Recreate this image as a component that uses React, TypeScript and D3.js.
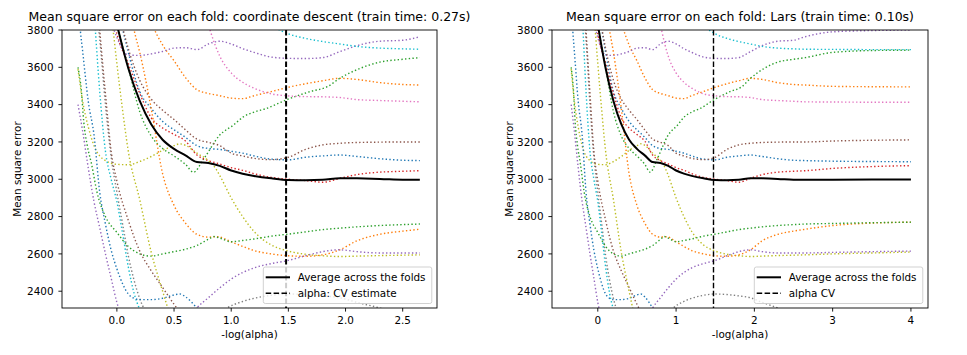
import React from "react";
import * as d3 from "d3";

type Pt = [number, number];

const TAB10 = ["#1f77b4", "#ff7f0e", "#2ca02c", "#d62728", "#9467bd", "#8c564b", "#e377c2", "#7f7f7f", "#bcbd22", "#17becf"];

// Per-fold MSE paths, x = -log10(alpha)
const foldBlueA: Pt[] = [[-0.1, 4300], [0, 3950], [0.1, 3680], [0.2, 3470], [0.3, 3380], [0.4, 3310], [0.5, 3265], [0.6, 3225], [0.7, 3180], [0.8, 3165], [0.9, 3160], [1.0, 3150], [1.1, 3140], [1.2, 3125], [1.35, 3108], [1.5, 3104], [1.65, 3118], [1.8, 3125], [1.95, 3130], [2.1, 3122], [2.3, 3110], [2.5, 3102], [2.65, 3100]];
const foldOrangeA: Pt[] = [[0.2, 4100], [0.3, 3850], [0.4, 3720], [0.5, 3635], [0.6, 3545], [0.7, 3480], [0.8, 3460], [0.9, 3448], [1.0, 3435], [1.1, 3432], [1.2, 3448], [1.35, 3470], [1.5, 3493], [1.65, 3512], [1.8, 3528], [1.95, 3541], [2.1, 3535], [2.3, 3518], [2.5, 3508], [2.65, 3505]];
const foldGreenA: Pt[] = [[-0.1, 4300], [0, 3850], [0.1, 3600], [0.2, 3362], [0.3, 3232], [0.4, 3165], [0.5, 3125], [0.6, 3080], [0.67, 3038], [0.76, 3110], [0.9, 3237], [1.02, 3291], [1.11, 3336], [1.2, 3360], [1.31, 3380], [1.48, 3425], [1.69, 3470], [1.84, 3496], [1.95, 3541], [2.13, 3595], [2.3, 3628], [2.5, 3643], [2.65, 3652]];
const foldRedA: Pt[] = [[-0.1, 4100], [0, 3780], [0.1, 3620], [0.2, 3460], [0.3, 3330], [0.4, 3275], [0.5, 3240], [0.6, 3205], [0.7, 3130], [0.8, 3100], [0.9, 3082], [1.0, 3062], [1.1, 3048], [1.2, 3030], [1.35, 3010], [1.5, 3000], [1.65, 2993], [1.8, 2984], [1.95, 3005], [2.1, 3025], [2.3, 3038], [2.5, 3043], [2.65, 3046]];
const foldPurpleA: Pt[] = [[-0.2, 4200], [-0.1, 3950], [0, 3760], [0.1, 3665], [0.2, 3664], [0.3, 3672], [0.4, 3685], [0.5, 3703], [0.6, 3705], [0.7, 3695], [0.8, 3725], [0.9, 3740], [1.0, 3725], [1.1, 3700], [1.2, 3680], [1.35, 3655], [1.5, 3648], [1.65, 3647], [1.8, 3652], [1.95, 3684], [2.1, 3716], [2.3, 3740], [2.5, 3745], [2.65, 3764]];
const foldBrownA: Pt[] = [[-0.1, 4300], [0, 3950], [0.1, 3700], [0.2, 3530], [0.3, 3430], [0.4, 3370], [0.5, 3320], [0.6, 3265], [0.7, 3215], [0.8, 3198], [0.9, 3180], [1.0, 3140], [1.1, 3125], [1.2, 3112], [1.35, 3105], [1.5, 3118], [1.65, 3160], [1.8, 3184], [1.95, 3193], [2.1, 3197], [2.3, 3199], [2.5, 3200], [2.65, 3200]];
const foldPinkA: Pt[] = [[0.7, 4150], [0.75, 3950], [0.82, 3790], [0.9, 3660], [1.0, 3570], [1.1, 3520], [1.2, 3488], [1.35, 3458], [1.5, 3447], [1.65, 3443], [1.8, 3442], [1.95, 3438], [2.1, 3427], [2.3, 3422], [2.5, 3418], [2.65, 3415]];
const foldGrayA: Pt[] = [[-0.25, 4200], [-0.2, 4000], [-0.15, 3750], [-0.1, 3400], [-0.05, 3120], [0, 2930], [0.05, 2760], [0.1, 2590], [0.15, 2460], [0.2, 2360], [0.25, 2290], [0.4, 2150], [0.6, 2120], [0.8, 2220], [0.95, 2305], [1.1, 2345], [1.2, 2362], [1.35, 2378], [1.5, 2385], [1.65, 2382], [1.8, 2375], [1.95, 2365], [2.1, 2340], [2.3, 2310], [2.5, 2270], [2.65, 2240]];
const foldOliveA: Pt[] = [[-0.34, 3590], [-0.3, 3420], [-0.25, 3280], [-0.2, 3180], [-0.1, 3100], [0, 3080], [0.1, 3078], [0.2, 3095], [0.3, 3122], [0.4, 3155], [0.5, 3180], [0.55, 3190], [0.6, 3182], [0.7, 3140], [0.8, 3100], [0.85, 3070], [0.9, 3020], [1.0, 2900], [1.1, 2800], [1.2, 2720], [1.35, 2648], [1.5, 2615], [1.65, 2598], [1.8, 2590], [1.95, 2586], [2.1, 2588], [2.3, 2591], [2.5, 2593], [2.65, 2595]];
const foldCyanA: Pt[] = [[-0.25, 4300], [-0.2, 3900], [-0.15, 3470], [-0.1, 3150], [-0.05, 3000], [0, 2880], [0.05, 2710], [0.1, 2530], [0.15, 2390], [0.2, 2300], [0.3, 2150], [0.6, 2000], [2.65, 1900]];
const foldBlueB: Pt[] = [[-0.34, 3950], [-0.32, 3800], [-0.3, 3690], [-0.25, 3416], [-0.2, 3237], [-0.15, 2930], [-0.1, 2760], [-0.05, 2620], [0, 2520], [0.05, 2440], [0.1, 2385], [0.15, 2362], [0.2, 2355], [0.3, 2355], [0.4, 2362], [0.5, 2380], [0.55, 2385], [0.6, 2370], [0.7, 2310], [0.8, 2240], [1.0, 2150], [2.65, 2000]];
const foldOrangeB: Pt[] = [[0, 4400], [0.1, 3950], [0.15, 3800], [0.2, 3680], [0.3, 3380], [0.4, 3030], [0.5, 2860], [0.6, 2765], [0.7, 2705], [0.8, 2690], [0.88, 2692], [1.0, 2665], [1.1, 2640], [1.2, 2618], [1.35, 2600], [1.5, 2590], [1.65, 2587], [1.8, 2595], [1.95, 2622], [2.1, 2670], [2.3, 2705], [2.5, 2722], [2.65, 2732]];
const foldGreenB: Pt[] = [[-0.34, 3600], [-0.31, 3470], [-0.29, 3310], [-0.26, 3184], [-0.22, 3077], [-0.175, 2934], [-0.1, 2800], [0, 2715], [0.1, 2640], [0.2, 2600], [0.3, 2588], [0.4, 2600], [0.5, 2612], [0.6, 2625], [0.7, 2645], [0.8, 2678], [0.85, 2693], [0.9, 2685], [1.0, 2665], [1.1, 2672], [1.2, 2680], [1.35, 2695], [1.5, 2706], [1.65, 2718], [1.8, 2730], [1.95, 2738], [2.1, 2745], [2.3, 2752], [2.5, 2757], [2.65, 2760]];
const foldPurpleB: Pt[] = [[-0.34, 3400], [-0.3, 3260], [-0.25, 3060], [-0.2, 2880], [-0.15, 2740], [-0.1, 2600], [-0.05, 2470], [0, 2340], [0.05, 2250], [0.3, 2050], [0.5, 2100], [0.65, 2270], [0.7, 2310], [0.8, 2365], [0.9, 2418], [1.0, 2465], [1.1, 2500], [1.2, 2525], [1.35, 2548], [1.5, 2565], [1.65, 2590], [1.8, 2612], [1.95, 2622], [2.1, 2612], [2.3, 2605], [2.5, 2605], [2.65, 2605]];
const foldBrownB: Pt[] = [[-0.2, 4200], [-0.15, 3800], [-0.1, 3460], [-0.05, 3150], [0, 2990], [0.1, 2780], [0.2, 2615], [0.3, 2510], [0.4, 2420], [0.5, 2330], [0.6, 2250], [0.8, 2150], [2.65, 2000]];
const foldOliveB: Pt[] = [[-0.1, 4200], [0, 3620], [0.05, 3370], [0.1, 3150], [0.2, 2890], [0.3, 2610], [0.4, 2400], [0.45, 2300], [0.5, 2200], [0.7, 2050], [2.65, 1900]];
const foldCyanB: Pt[] = [[1.2, 3950], [1.35, 3830], [1.5, 3780], [1.65, 3755], [1.8, 3738], [1.95, 3725], [2.1, 3712], [2.3, 3703], [2.5, 3699], [2.65, 3697]];

const folds: Pt[][] = [foldBlueA, foldOrangeA, foldGreenA, foldRedA, foldPurpleA, foldBrownA, foldPinkA, foldGrayA, foldOliveA, foldCyanA, foldBlueB, foldOrangeB, foldGreenB, foldPurpleB, foldBrownB, foldOliveB, foldCyanB];
const foldColorIdx = [0, 1, 2, 3, 4, 5, 6, 7, 8, 9, 0, 1, 2, 4, 5, 8, 9];

const averageMse: Pt[] = [[-0.34, 4800], [-0.2, 4400], [-0.1, 4100], [0, 3830], [0.1, 3595], [0.2, 3420], [0.3, 3295], [0.4, 3212], [0.5, 3163], [0.6, 3128], [0.7, 3092], [0.8, 3087], [0.9, 3072], [1.0, 3047], [1.1, 3030], [1.2, 3018], [1.35, 3005], [1.5, 2996], [1.65, 2995], [1.8, 2997], [1.95, 3006], [2.1, 3005], [2.3, 3002], [2.5, 2998], [2.65, 2997]];

// Lars path extends further (x = 3.0, 3.5, 4.0)
const larsTailX = [3.0, 3.5, 4.0];
const larsTails: (number[] | null)[] = [
  [3097, 3095, 3094], [3498, 3496, 3495], [3680, 3690, 3692], [3058, 3068, 3073], [3790, 3797, 3800],
  [3205, 3209, 3211], [3414, 3413, 3413], [2200, 2150, 2100], [2600, 2605, 2610], null,
  null, [2752, 2765, 2770], [2763, 2767, 2770], [2608, 2612, 2615], null, null, [3696, 3695, 3695],
];
const larsAverageTail = [2998, 2999, 2999];

const yTicks = [2400, 2600, 2800, 3000, 3200, 3400, 3600, 3800];
const cdXTicks = [0, 0.5, 1.0, 1.5, 2.0, 2.5];
const larsXTicks = [0, 1, 2, 3, 4];
const alphaCvCD = 1.48;
const alphaCvLars = 1.478;

const FONT = "'DejaVu Sans', sans-serif";
const FS = 10.4;
const TOP = 30;
const BOTTOM = 308;

function withTail(p: Pt[], tail: number[] | null): Pt[] {
  if (!tail) return p;
  return [...p, ...larsTailX.map((x, i) => [x, tail[i]] as Pt)];
}

interface PanelProps {
  id: string;
  left: number;
  right: number;
  xDomain: [number, number];
  xTicks: number[];
  fmt: (v: number) => string;
  title: string;
  cvLabel: string;
  alphaCv: number;
  series: Pt[][];
  avg: Pt[];
  dashWidth: number;
  yLabelX: number;
}

function Panel(props: PanelProps) {
  const { id, left, right, xDomain, xTicks, fmt, title, cvLabel, alphaCv, series, avg, dashWidth, yLabelX } = props;
  const x = d3.scaleLinear().domain(xDomain).range([left, right]);
  const y = d3.scaleLinear().domain([2310, 3800]).range([BOTTOM, TOP]);
  const line = d3.line<Pt>().x((d) => x(d[0])).y((d) => y(d[1])).curve(d3.curveMonotoneX);
  const cx = (left + right) / 2;
  const legR = right - 5.2;
  const legL = legR - 168.5;
  const legT = 267;
  const legB = 303.5;
  return (
    <g>
      <defs>
        <clipPath id={id}>
          <rect x={left} y={TOP} width={right - left} height={BOTTOM - TOP} />
        </clipPath>
      </defs>
      <g clipPath={`url(#${id})`}>
        {series.map((s, i) => (
          <path key={i} d={line(s) || ""} fill="none" stroke={TAB10[foldColorIdx[i]]} strokeWidth={1.4} strokeDasharray="1.4 2.3" />
        ))}
        <path d={line(avg) || ""} fill="none" stroke="#000" strokeWidth={2} />
        <line x1={x(alphaCv)} x2={x(alphaCv)} y1={TOP} y2={BOTTOM} stroke="#000" strokeWidth={dashWidth} strokeDasharray="5.5 2.4" />
      </g>
      <rect x={left} y={TOP} width={right - left} height={BOTTOM - TOP} fill="none" stroke="#000" strokeWidth={0.9} />
      {yTicks.map((t) => (
        <g key={t}>
          <line x1={left - 3.6} x2={left} y1={y(t)} y2={y(t)} stroke="#000" strokeWidth={0.9} />
          <text x={left - 8.5} y={y(t)} dy="0.36em" textAnchor="end" fontSize={FS} fontFamily={FONT} fill="#000">{t}</text>
        </g>
      ))}
      {xTicks.map((t) => (
        <g key={t}>
          <line x1={x(t)} x2={x(t)} y1={BOTTOM} y2={BOTTOM + 3.6} stroke="#000" strokeWidth={0.9} />
          <text x={x(t)} y={BOTTOM + 15.5} textAnchor="middle" fontSize={FS} fontFamily={FONT} fill="#000">{fmt(t)}</text>
        </g>
      ))}
      <text x={cx} y={21} textAnchor="middle" fontSize={12.5} fontFamily={FONT} fill="#000">{title}</text>
      <text x={cx} y={338} textAnchor="middle" fontSize={FS} fontFamily={FONT} fill="#000">-log(alpha)</text>
      <text transform={`translate(${yLabelX},${(TOP + BOTTOM) / 2}) rotate(-90)`} dy="0.36em" textAnchor="middle" fontSize={FS} fontFamily={FONT} fill="#000">Mean square error</text>
      <rect x={legL} y={legT} width={legR - legL} height={legB - legT} rx={2} fill="#fff" fillOpacity={0.8} stroke="#cccccc" strokeWidth={0.9} />
      <line x1={legL + 2.4} x2={legL + 26.7} y1={277.3} y2={277.3} stroke="#000" strokeWidth={2} />
      <text x={legL + 34.4} y={277.3} dy="0.36em" fontSize={FS} fontFamily={FONT} fill="#000">Average across the folds</text>
      <line x1={legL + 2.4} x2={legL + 26.7} y1={293.3} y2={293.3} stroke="#000" strokeWidth={1.4} strokeDasharray="5.5 2.4" />
      <text x={legL + 34.4} y={293.3} dy="0.36em" fontSize={FS} fontFamily={FONT} fill="#000">{cvLabel}</text>
    </g>
  );
}

export default function App() {
  const larsSeries = folds.map((f, i) => withTail(f, larsTails[i]));
  const larsAvg = withTail(averageMse, larsAverageTail);
  return (
    <svg width={967} height={355} style={{ position: "absolute", left: 0, top: 0, background: "#fff" }}>
      <rect width={967} height={355} fill="#fff" />
      <Panel
        id="clipCD"
        left={62}
        right={437}
        xDomain={[-0.48, 2.8]}
        xTicks={cdXTicks}
        fmt={(v) => v.toFixed(1)}
        title="Mean square error on each fold: coordinate descent (train time: 0.27s)"
        cvLabel="alpha: CV estimate"
        alphaCv={alphaCvCD}
        series={folds}
        avg={averageMse}
        dashWidth={2}
        yLabelX={17.5}
      />
      <Panel
        id="clipLars"
        left={552}
        right={928}
        xDomain={[-0.585, 4.218]}
        xTicks={larsXTicks}
        fmt={(v) => String(v)}
        title="Mean square error on each fold: Lars (train time: 0.10s)"
        cvLabel="alpha CV"
        alphaCv={alphaCvLars}
        series={larsSeries}
        avg={larsAvg}
        dashWidth={1.4}
        yLabelX={509}
      />
    </svg>
  );
}
